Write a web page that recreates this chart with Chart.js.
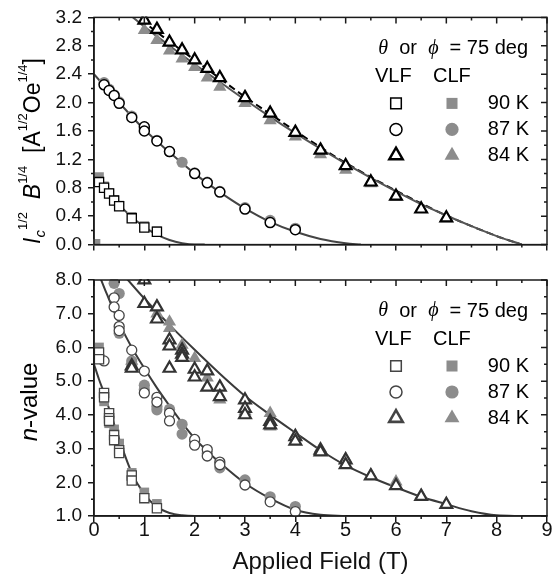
<!DOCTYPE html>
<html>
<head>
<meta charset="utf-8">
<script src="https://cdn.jsdelivr.net/npm/chart.js@4.4.0/dist/chart.umd.min.js"></script>
<style>
  html, body { margin: 0; padding: 0; background: #fff; }
  #wrap { position: relative; width: 556px; height: 577px; overflow: hidden; }
  #topBox { position: absolute; left: 0; top: 0; width: 556px; height: 262px; }
  #botBox { position: absolute; left: 0; top: 262px; width: 556px; height: 315px; }
</style>
</head>
<body>
<div id="wrap">
  <div id="topBox"><canvas id="top"></canvas></div>
  <div id="botBox"><canvas id="bot"></canvas></div>
</div>
<script>
// ---- top panel: Ic^1/2 B^1/4 ----
const icVLF90 = [[0.1,0.88],[0.2,0.80],[0.3,0.72],[0.4,0.62],[0.5,0.54],[0.75,0.37],[1.0,0.24],[1.25,0.18]];
const icCLF90 = [[0.03,0.01],[0.1,0.95],[0.2,0.82],[0.3,0.73],[0.4,0.63],[0.5,0.55],[0.75,0.39],[1.0,0.26],[1.25,0.19]];
const icVLF87 = [[0.2,2.25],[0.3,2.17],[0.4,2.10],[0.5,1.99],[0.75,1.79],[1.0,1.66],[1.0,1.60],[1.25,1.46],[1.5,1.31],[2.0,1.00],[2.25,0.87],[2.5,0.74],[3.0,0.50],[3.5,0.31],[4.0,0.21]];
const icCLF87 = [[0.2,2.28],[0.3,2.19],[0.4,2.11],[0.5,2.01],[0.75,1.81],[1.0,1.63],[1.25,1.47],[1.5,1.31],[1.75,1.16],[2.0,1.01],[2.25,0.88],[2.5,0.75],[3.0,0.52],[3.5,0.34],[4.0,0.23]];
const icVLF84 = [[1.0,3.16],[1.25,3.03],[1.5,2.85],[1.75,2.74],[2.0,2.60],[2.25,2.48],[2.5,2.35],[3.0,2.07],[3.5,1.85],[4.0,1.58],[4.5,1.33],[5.0,1.11],[5.5,0.88],[6.0,0.68],[6.5,0.50],[7.0,0.375]];
const icCLF84 = [[1.0,3.02],[1.25,2.88],[1.5,2.73],[1.75,2.62],[2.0,2.50],[2.25,2.35],[2.5,2.22],[3.0,1.99],[3.5,1.75],[4.0,1.52],[4.5,1.27],[5.0,1.05],[5.5,0.86],[6.0,0.67],[6.5,0.50],[7.0,0.37]];
const icFit90 = [[0,0.98],[0.25,0.76],[0.5,0.56],[0.75,0.39],[1.0,0.25],[1.25,0.14],[1.5,0.065],[1.75,0.02],[2.0,0.0],[2.2,0.0]];
const icFit87 = [[0,2.40],[0.5,2.0],[1.0,1.62],[1.5,1.30],[2.0,1.00],[2.5,0.74],[3.0,0.51],[3.5,0.32],[4.0,0.18],[4.5,0.08],[5.0,0.02],[5.3,0.0]];
const icFit84 = [[0.5,3.36],[1.0,3.07],[1.5,2.80],[2.0,2.54],[2.5,2.29],[3.0,2.04],[3.5,1.80],[4.0,1.57],[4.5,1.35],[5.0,1.14],[5.5,0.94],[6.0,0.75],[6.5,0.57],[7.0,0.41],[7.5,0.26],[8.0,0.12],[8.5,0.0]];
const icFit84dash = [[0.6,3.37],[1.0,3.13],[1.5,2.86],[2.0,2.60],[2.5,2.34],[3.0,2.08],[3.5,1.84],[4.0,1.60],[4.5,1.37],[5.0,1.15],[5.5,0.95],[6.0,0.76],[6.5,0.58],[7.0,0.41],[7.5,0.26],[8.0,0.12],[8.5,0.0]];

// ---- bottom panel: n-value ----
const nVLF90 = [[0.1,5.85],[0.1,5.65],[0.2,4.65],[0.2,4.52],[0.3,4.05],[0.3,3.9],[0.3,3.82],[0.4,3.4],[0.4,3.25],[0.5,2.95],[0.5,2.87],[0.75,2.2],[0.75,2.05],[1.0,1.53],[1.25,1.23]];
const nCLF90 = [[0.1,6.0],[0.2,4.4],[0.3,3.75],[0.4,3.57],[0.5,3.15],[0.75,2.28],[1.0,1.7],[1.25,1.36]];
const nVLF87 = [[0.2,5.6],[0.4,7.47],[0.4,7.2],[0.5,6.95],[0.5,6.62],[0.5,6.5],[0.75,5.92],[1.0,5.3],[1.0,4.65],[1.25,4.52],[1.25,4.38],[1.5,4.05],[1.5,3.82],[2.0,3.27],[2.0,3.1],[2.25,2.97],[2.25,2.78],[2.5,2.6],[2.5,2.52],[3.0,1.92],[3.5,1.42],[4.0,1.13]];
const nCLF87 = [[0.4,7.9],[0.5,7.6],[0.5,6.42],[0.75,5.6],[0.75,5.45],[1.0,4.88],[1.0,4.75],[1.25,4.25],[1.25,4.15],[1.5,4.17],[1.75,3.72],[1.75,3.43],[2.0,3.22],[2.25,2.86],[2.5,2.43],[3.0,2.07],[3.5,1.57],[4.0,1.28]];
const nVLF84 = [[0.75,5.45],[0.75,5.38],[1.0,8.0],[1.0,7.3],[1.25,7.2],[1.25,6.84],[1.5,6.22],[1.5,6.04],[1.5,5.38],[1.75,5.92],[1.75,5.8],[1.75,5.7],[2.0,5.35],[2.0,5.12],[2.25,5.3],[2.25,4.82],[2.5,4.82],[2.5,4.54],[3.0,4.44],[3.0,4.19],[3.0,4.0],[3.5,3.8],[3.5,3.7],[4.0,3.35],[4.0,3.22],[4.5,2.95],[4.5,2.9],[5.0,2.66],[5.0,2.52],[5.5,2.19],[6.0,1.9],[6.5,1.58],[7.0,1.34]];
const nCLF84 = [[0.75,5.6],[1.25,7.0],[1.5,6.76],[1.5,6.57],[1.75,6.07],[2.0,5.68],[2.25,5.1],[2.5,4.45],[3.0,4.1],[3.5,4.05],[3.5,3.65],[4.0,3.4],[4.5,3.0],[5.0,2.7],[5.5,2.22],[6.0,2.02],[6.5,1.62],[7.0,1.36]];
const nFit90 = [[0,5.5],[0.1,5.05],[0.2,4.65],[0.3,4.18],[0.4,3.72],[0.5,3.28],[0.75,2.28],[1.0,1.65],[1.25,1.27],[1.5,1.09],[1.75,1.02],[2.0,1.0],[2.3,1.0]];
const nFit87 = [[0.05,8.35],[0.25,7.6],[0.5,6.72],[0.75,6.0],[1.0,5.38],[1.25,4.8],[1.5,4.27],[1.75,3.76],[2.0,3.3],[2.25,2.92],[2.5,2.58],[3.0,1.97],[3.5,1.52],[4.0,1.18],[4.5,1.04],[5.0,1.0]];
const nFit84 = [[0.5,8.3],[1.0,7.45],[1.5,6.67],[2.0,5.93],[2.5,5.22],[3.0,4.56],[3.5,4.0],[4.0,3.47],[4.5,2.95],[5.0,2.5],[5.5,2.15],[6.0,1.85],[6.5,1.57],[7.0,1.35],[7.5,1.14],[8.0,1.02],[8.5,1.0]];

const tempLabels = ['90 K', '87 K', '84 K'];
const shapes = ['rect', 'circle', 'triangle'];
const xTicks = [0, 1, 2, 3, 4, 5, 6, 7, 8, 9];

const FONT = '"Liberation Sans", Arial, sans-serif';
const GRAY = '#8c8c8c';
const SIZE = { rect: 6.5, circle: 5, triangle: 6.8 };
const SIZE_F = { rect: 6.8, circle: 5.6, triangle: 7.6 };

const pts = arr => arr.map(p => ({ x: p[0], y: p[1] }));

function vlf(data, shape, color, width) {
  return {
    data: pts(data), pointStyle: shape, pointRadius: SIZE[shape], pointBorderWidth: width,
    pointBorderColor: color, pointBackgroundColor: '#fff', showLine: false, order: 1, clip: 1
  };
}
function clf(data, shape) {
  return {
    data: pts(data), pointStyle: shape, pointRadius: SIZE_F[shape], pointBorderWidth: 0,
    pointBorderColor: GRAY, pointBackgroundColor: GRAY, showLine: false, order: 2, clip: 1
  };
}
function fit(data, color, dash) {
  return {
    data: pts(data), showLine: true, pointRadius: 0, borderColor: color, borderWidth: 2,
    borderDash: dash || [], cubicInterpolationMode: 'monotone', order: 3, fill: false
  };
}

// draws a marker the same way Chart.js does
function mark(ctx, shape, x, y, r, fill, stroke, lw) {
  ctx.beginPath();
  if (shape === 'rect') {
    const s = r * Math.SQRT1_2;
    ctx.rect(x - s, y - s, 2 * s, 2 * s);
  } else if (shape === 'circle') {
    ctx.arc(x, y, r, 0, Math.PI * 2);
  } else {
    ctx.moveTo(x, y - r);
    ctx.lineTo(x + r * Math.sin(2 * Math.PI / 3), y + r / 2);
    ctx.lineTo(x - r * Math.sin(2 * Math.PI / 3), y + r / 2);
    ctx.closePath();
  }
  ctx.fillStyle = fill; ctx.fill();
  if (lw > 0) { ctx.lineWidth = lw; ctx.strokeStyle = stroke; ctx.stroke(); }
}

function richWidth(ctx, segs) {
  let w = 0;
  segs.forEach(s => { ctx.font = s[1]; w += ctx.measureText(s[0]).width; });
  return w;
}
function drawRich(ctx, segs, x, y) {
  segs.forEach(s => {
    ctx.font = s[1];
    ctx.fillText(s[0], x, y + (s[2] || 0));
    x += ctx.measureText(s[0]).width;
  });
}

const frame = {
  id: 'frame',
  afterDraw(chart, args, o) {
    const { ctx, chartArea: a } = chart;
    const xs = chart.scales.x, ys = chart.scales.y;
    ctx.save();
    ctx.strokeStyle = '#1a1a1a';
    ctx.lineWidth = 1.5;
    ctx.strokeRect(a.left, a.top, a.right - a.left, a.bottom - a.top);
    ctx.beginPath();
    for (let i = 0; i <= 18; i++) {
      const px = xs.getPixelForValue(i / 2);
      const len = i % 2 ? 3 : 6;
      ctx.moveTo(px, a.top); ctx.lineTo(px, a.top + len);
      if (i % 2) { ctx.moveTo(px, a.bottom); ctx.lineTo(px, a.bottom + 3); }
    }
    const n = Math.round((o.yMax - o.yMin) / o.yMinor);
    for (let i = 0; i <= n; i++) {
      const py = ys.getPixelForValue(o.yMin + i * o.yMinor);
      const len = i % 2 ? 3 : 6;
      ctx.moveTo(a.right, py); ctx.lineTo(a.right - len, py);
      if (i % 2) { ctx.moveTo(a.left, py); ctx.lineTo(a.left - 3, py); }
    }
    ctx.stroke();

    // legend
    const RG = '20px ' + FONT, IT = 'italic 20px "Liberation Serif", serif';
    ctx.fillStyle = '#000';
    ctx.textBaseline = 'middle';
    const head = [['θ', IT], ['  or  ', RG], ['ϕ', IT], ['  = 75 deg', RG]];
    drawRich(ctx, head, 528 - richWidth(ctx, head), a.top + 31);
    ctx.font = RG;
    ctx.textAlign = 'left';
    ctx.fillText('VLF', 375, a.top + 59);
    ctx.fillText('CLF', 433, a.top + 59);
    ctx.textAlign = 'right';
    shapes.forEach((s, i) => {
      const y = a.top + 86 + i * 26;
      mark(ctx, s, 396, y, SIZE[s] + 1, '#fff', o.vlfColor, s === 'triangle' ? o.triWidth : 1.5);
      mark(ctx, s, 452, y, SIZE_F[s] + 1, GRAY, GRAY, 0);
      ctx.fillStyle = '#000';
      ctx.font = RG;
      ctx.fillText(tempLabels[i], 529, y);
    });

    // rotated y title
    ctx.textAlign = 'left';
    ctx.textBaseline = 'alphabetic';
    const cy = (a.top + a.bottom) / 2 + o.titleShift;
    ctx.translate(o.titleX, cy);
    ctx.rotate(-Math.PI / 2);
    const tw = richWidth(ctx, o.title);
    drawRich(ctx, o.title, -tw / 2, 0);
    ctx.restore();
  }
};

const grid = { drawOnChartArea: false, drawTicks: true, tickLength: 6, color: '#1a1a1a', tickColor: '#1a1a1a', lineWidth: 1.5 };
const border = { display: true, color: '#1a1a1a', width: 1.5 };
const yTickFont = { family: FONT, size: 19 };

function xAxis(showLabels, h) {
  return {
    type: 'linear', min: 0, max: 9,
    afterBuildTicks: s => { s.ticks = xTicks.map(v => ({ value: v })); },
    ticks: { display: showLabels, color: '#111', font: { family: FONT, size: 20, lineHeight: 1 }, padding: -2 },
    grid, border,
    title: { display: showLabels, text: 'Applied Field (T)', color: '#111', font: { family: FONT, size: 24, lineHeight: 1.1 }, padding: { top: 0, bottom: 1 } },
    afterFit: s => { s.height = h; s.paddingLeft = 0; s.paddingRight = 0; }
  };
}
function yAxis(min, max, step) {
  return {
    min, max,
    ticks: { stepSize: step, color: '#111', font: yTickFont, padding: 6, callback: v => v.toFixed(1) },
    grid, border,
    afterFit: s => { s.width = 94; }
  };
}

const SUP = '13px ' + FONT;
const icTitle = [
  ['I', 'italic 23px ' + FONT], ['c', 'italic 15px ' + FONT, 5], ['1/2', SUP, -13], ['  ', '23px ' + FONT],
  ['B', 'italic 23px ' + FONT], ['1/4', SUP, -13], ['  [A', '23px ' + FONT], ['1/2', SUP, -13],
  ['Oe', '23px ' + FONT], ['1/4', SUP, -13], [']', '23px ' + FONT]
];
const nTitle = [['n', 'italic 24px ' + FONT], ['-value', '24px ' + FONT]];

new Chart(document.getElementById('top'), {
  type: 'scatter',
  data: {
    datasets: [
      vlf(icVLF90, 'rect', '#000', 1.3),
      vlf(icVLF87, 'circle', '#000', 1.5),
      vlf(icVLF84, 'triangle', '#000', 2.2),
      clf(icCLF90, 'rect'),
      clf(icCLF87, 'circle'),
      clf(icCLF84, 'triangle'),
      fit(icFit90, '#444'),
      fit(icFit87, '#444'),
      fit(icFit84, '#555'),
      fit(icFit84dash, '#000', [7, 4])
    ]
  },
  options: {
    responsive: true, maintainAspectRatio: false, animation: false, devicePixelRatio: 1,
    layout: { padding: { top: 16, right: 3, left: 0, bottom: 0 } },
    plugins: {
      legend: { display: false }, tooltip: { enabled: false },
      frame: { yMin: 0, yMax: 3.2, yMinor: 0.2, vlfColor: '#000', triWidth: 2.4, titleX: 40, titleShift: 20, title: icTitle }
    },
    scales: { x: xAxis(false, 10), y: yAxis(0, 3.2, 0.4) }
  },
  plugins: [frame]
});

new Chart(document.getElementById('bot'), {
  type: 'scatter',
  data: {
    datasets: [
      vlf(nVLF90, 'rect', '#444', 1.3),
      vlf(nVLF87, 'circle', '#444', 1.3),
      vlf(nVLF84, 'triangle', '#333', 2.2),
      clf(nCLF90, 'rect'),
      clf(nCLF87, 'circle'),
      clf(nCLF84, 'triangle'),
      fit(nFit90, '#3a3a3a'),
      fit(nFit87, '#3a3a3a'),
      fit(nFit84, '#3a3a3a')
    ]
  },
  options: {
    responsive: true, maintainAspectRatio: false, animation: false, devicePixelRatio: 1,
    layout: { padding: { top: 18, right: 3, left: 0, bottom: 0 } },
    plugins: {
      legend: { display: false }, tooltip: { enabled: false },
      frame: { yMin: 1, yMax: 8, yMinor: 0.5, vlfColor: '#444', triWidth: 2.6, titleX: 37, titleShift: 4, title: nTitle }
    },
    scales: { x: xAxis(true, 61), y: yAxis(1, 8, 1) }
  },
  plugins: [frame]
});
</script>
</body>
</html>
